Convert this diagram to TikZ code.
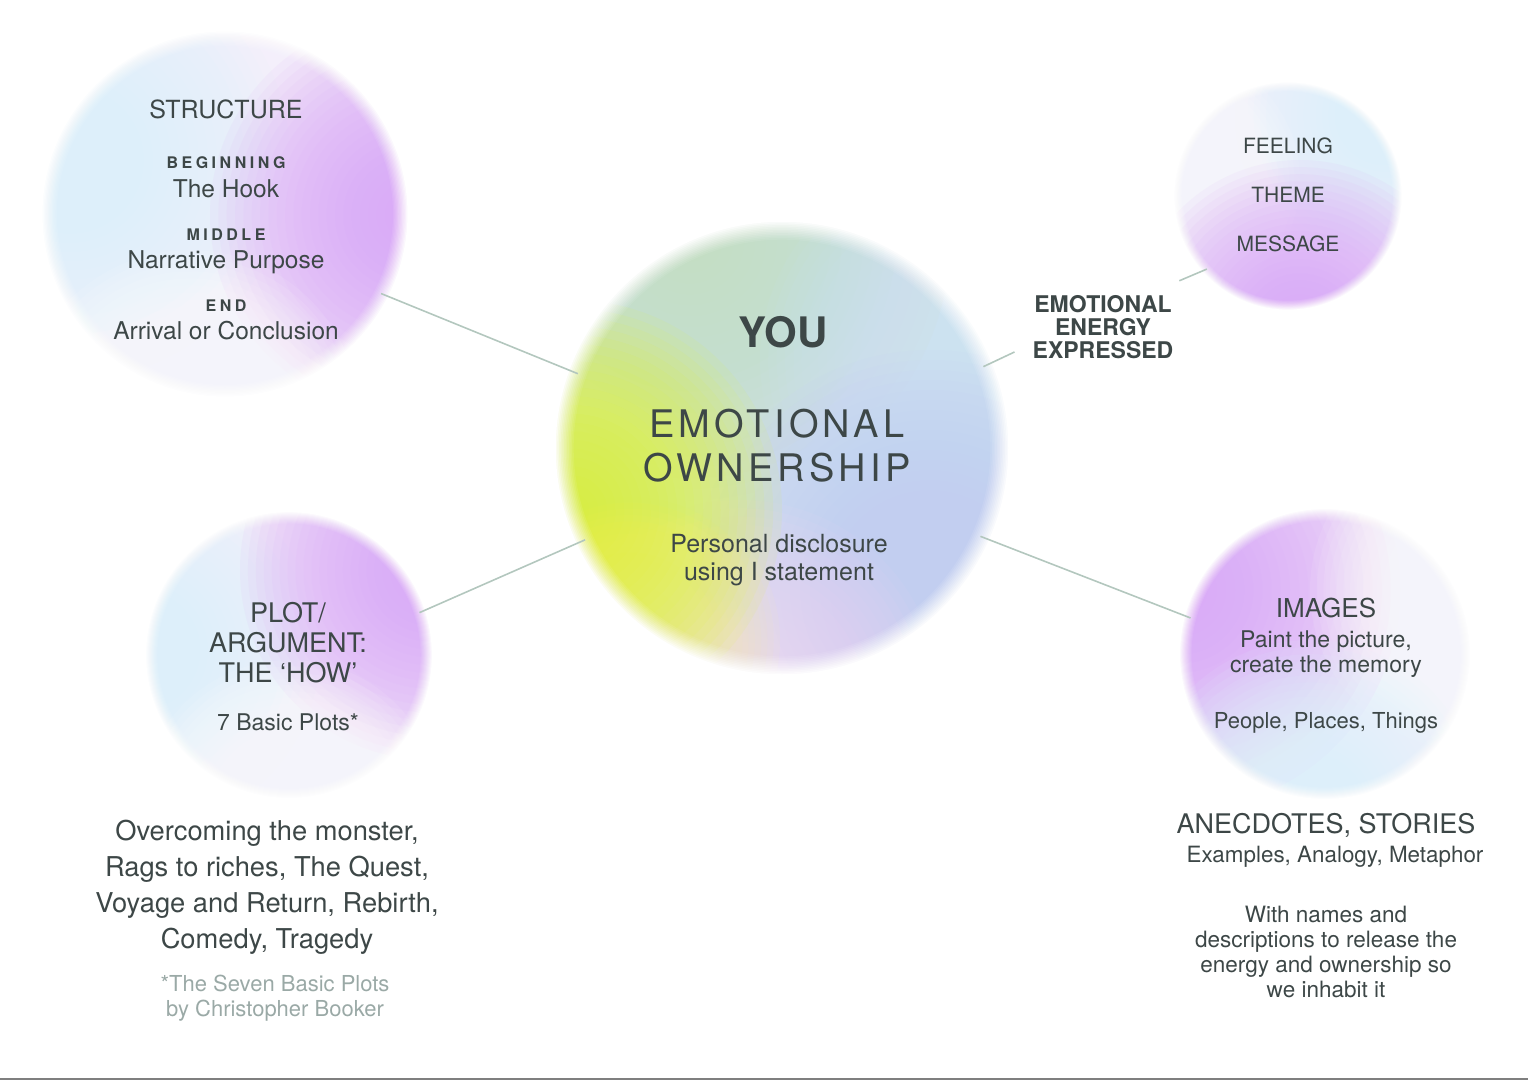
\documentclass[tikz,border=0pt]{standalone}
\usepackage{fontspec}
\setmainfont{TeX Gyre Heros}

\definecolor{ink}{HTML}{3D4747}
\definecolor{note}{HTML}{9AA9A6}
\definecolor{linkgray}{HTML}{B3C7BE}
\definecolor{rule}{HTML}{7F7F7F}
\definecolor{lilac}{HTML}{DAA6F7}
\definecolor{icecyan}{HTML}{DDF7FA}
\definecolor{palelav}{HTML}{F4EFFB}
\definecolor{lime}{HTML}{E2F835}
\definecolor{peach}{HTML}{F6EEAE}
\definecolor{sage}{HTML}{C4DEC4}
\definecolor{skyblue}{HTML}{CCE7F6}
\definecolor{periwink}{HTML}{C2CEFA}
\definecolor{blush}{HTML}{F0D6F4}
\definecolor{mistblue}{HTML}{D2E2F0}

\newcommand{\fsize}[2]{\fontsize{#1}{#2}\selectfont}
% soft colour spot: colour, x, y, radius
\newcommand{\glowdisc}[4]{%
  \foreach \k in {1,...,24}{\fill[#1, opacity=0.085] (#2,#3) circle ({#4*\k/24});}}
% blurred rim of a bubble: centre, radius
\newcommand{\softrim}[2]{%
  \foreach \k in {0,...,11}{\fill[white, opacity={1/(12-\k)}, even odd rule] (#1) circle ({#2*1.1}) (#1) circle ({#2*(0.96+\k*0.0075)});}}

\begin{document}
\begin{tikzpicture}[x=1pt,y=-1pt,
    bubble/.style={circle, inner sep=0pt},
    txt/.style={anchor=base, inner sep=0pt, text=ink, align=center},
    link/.style={draw=linkgray, line width=1.6pt},
    caps/.style={font=\bfseries\fsize{16}{18}\addfontfeature{LetterSpace=22}}]
  \useasboundingbox (0,0) rectangle (1528,1080);

  % bubbles
  \node[bubble, minimum size=350] (s1) at (225,214) {};
  \node[bubble, minimum size=218] (s2) at (1288,196) {};
  \node[bubble, minimum size=274] (s3) at (289,655) {};
  \node[bubble, minimum size=278] (s4) at (1325,654) {};
  \node[bubble, minimum size=434] (c0) at (782,448) {};

  % structure
  \begin{scope}
    \clip (s1.center) circle (183);
    \fill[palelav] (s1.center) circle (183);
    \glowdisc{icecyan}{70}{160}{220}
    \glowdisc{lilac}{410}{215}{200}
    \glowdisc{white}{190}{420}{170}
  \end{scope}
  \softrim{s1.center}{175}

  % feeling
  \begin{scope}
    \clip (s2.center) circle (114);
    \fill[palelav] (s2.center) circle (114);
    \glowdisc{icecyan}{1385}{115}{150}
    \glowdisc{white}{1170}{180}{130}
    \glowdisc{lilac}{1300}{330}{170}
  \end{scope}
  \softrim{s2.center}{109}

  % plot
  \begin{scope}
    \clip (s3.center) circle (143);
    \fill[palelav] (s3.center) circle (143);
    \glowdisc{icecyan}{140}{650}{180}
    \glowdisc{lilac}{430}{570}{190}
    \glowdisc{white}{290}{810}{150}
  \end{scope}
  \softrim{s3.center}{137}

  % images
  \begin{scope}
    \clip (s4.center) circle (145);
    \fill[palelav] (s4.center) circle (145);
    \glowdisc{lilac}{1180}{590}{220}
    \glowdisc{white}{1470}{590}{160}
    \glowdisc{icecyan}{1310}{810}{170}
  \end{scope}
  \softrim{s4.center}{139}

  % centre
  \begin{scope}
    \clip (c0.center) circle (227);
    \fill[mistblue] (c0.center) circle (227);
    \glowdisc{sage}{690}{240}{260}
    \glowdisc{skyblue}{960}{360}{200}
    \glowdisc{periwink}{930}{590}{240}
    \glowdisc{blush}{740}{700}{200}
    \glowdisc{peach}{630}{640}{150}
    \glowdisc{lime}{572}{510}{210}
  \end{scope}
  \softrim{c0.center}{217}

  % label between centre and feeling
  \node[txt, font=\bfseries\fsize{23}{23}, inner xsep=18pt, inner ysep=14pt] (energy) at (1103,358) {EMOTIONAL\\ENERGY\\EXPRESSED};

  % connectors
  \draw[link] (s1.-27) -- (c0.160);
  \draw[link] (s3.18) -- (c0.-155);
  \draw[link] (c0.22) -- (energy.196);
  \draw[link] (energy.31) -- (s2.222);
  \draw[link] (c0.-24) -- (s4.165);

  % structure text
  \node[txt, font=\fsize{25}{30}] (stru) at (226,118) {STRUCTURE};
  \node[txt, caps] (begin) at (226,168) {BEGINNING};
  \node[txt, font=\fsize{24.5}{28}] (hook) at (226,197) {The Hook};
  \node[txt, caps] (middle) at (226,240) {MIDDLE};
  \node[txt, font=\fsize{24.5}{28}] (purpose) at (226,268) {Narrative Purpose};
  \node[txt, caps] (end) at (226,311) {END};
  \node[txt, font=\fsize{24.5}{28}] (arrival) at (226,339) {Arrival or Conclusion};

  % centre text
  \node[txt, font=\bfseries\fsize{42}{44}] (you) at (783,347) {YOU};
  \node[txt, font=\fsize{38}{44}\addfontfeature{LetterSpace=11}] (own) at (777,481) {EMOTIONAL\\OWNERSHIP};
  \node[txt, font=\fsize{25}{28}] (discl) at (779,580) {Personal disclosure\\using I statement};

  % feeling text
  \node[txt, font=\fsize{21}{49}] (feel) at (1288,251) {FEELING\\THEME\\MESSAGE};

  % plot text
  \node[txt, font=\fsize{27}{30}] (plot) at (288,682) {PLOT/\\ARGUMENT:\\THE `HOW'};
  \node[txt, font=\fsize{23}{26}] (seven) at (288,730) {7 Basic Plots*};
  \node[txt, font=\fsize{27.3}{36}] (plots) at (267,948) {Overcoming the monster,\\Rags to riches, The Quest,\\Voyage and Return, Rebirth,\\Comedy, Tragedy};
  \node[txt, font=\fsize{22}{25}, text=note] (booker) at (275,1016) {*The Seven Basic Plots\\by Christopher Booker};

  % images text
  \node[txt, font=\fsize{26}{30}] (img) at (1326,617) {IMAGES};
  \node[txt, font=\fsize{23}{25}] (paint) at (1326,672) {Paint the picture,\\create the memory};
  \node[txt, font=\fsize{22}{26}] (ppt) at (1326,728) {People, Places, Things};
  \node[txt, font=\fsize{27}{30}] (anec) at (1326,833) {ANECDOTES, STORIES};
  \node[txt, font=\fsize{22.4}{26}] (exam) at (1335,862) {Examples, Analogy, Metaphor};
  \node[txt, font=\fsize{22.5}{25}] (names) at (1326,997) {With names and\\descriptions to release the\\energy and ownership so\\we inhabit it};

  \draw[rule, line width=2pt] (0,1079) -- (1528,1079);
\end{tikzpicture}
\end{document}
